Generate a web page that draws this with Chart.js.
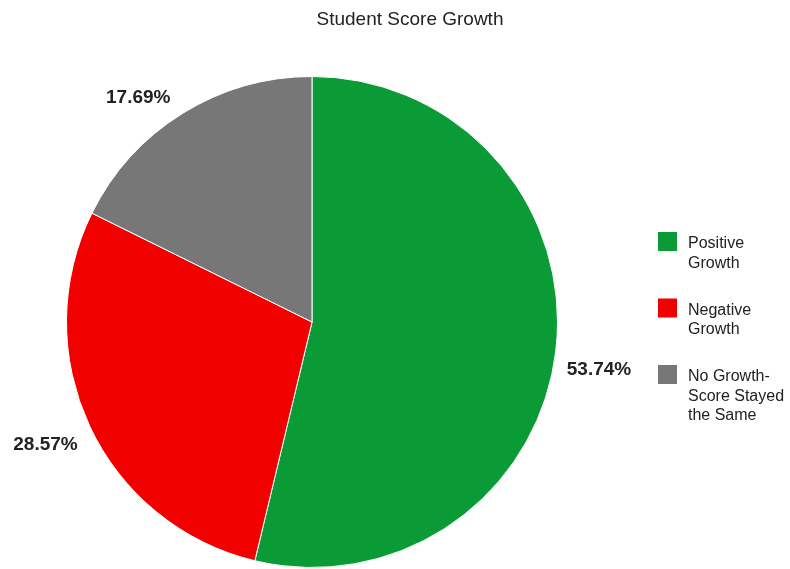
<!DOCTYPE html>
<html>
<head>
<meta charset="utf-8">
<script src="https://cdn.jsdelivr.net/npm/chart.js@4/dist/chart.umd.min.js"></script>
<style>
  html, body { margin: 0; padding: 0; background: #fff; }
  #wrap { width: 790px; height: 569px; position: relative; }
</style>
</head>
<body>
<div id="wrap"><canvas id="myPieChart" width="790" height="569"></canvas></div>
<script>
// chart data
let titleText = 'Student Score Growth';
let labeling = ['Positive Growth', 'Negative Growth', 'No Growth-Score Stayed the Same'];
// legend lines, wrapped like the original
let legendLines = [['Positive', 'Growth'], ['Negative', 'Growth'], ['No Growth-', 'Score Stayed', 'the Same']];
let scoreData = [53.74, 28.57, 17.69];
let sliceColors = ['#0a9a36', '#f20000', '#777777'];

// draws the title, the percent labels and the legend
let extrasPlugin = {
  id: 'extras',
  afterDraw(chart) {
    let ctx = chart.ctx;
    ctx.save();

    // title
    ctx.fillStyle = '#222';
    ctx.font = '19px Arial, "Liberation Sans", sans-serif';
    ctx.textAlign = 'center';
    ctx.textBaseline = 'middle';
    ctx.fillText(titleText, 410, 20);

    // percent labels outside each slice
    let meta = chart.getDatasetMeta(0);
    ctx.font = 'bold 19px Arial, "Liberation Sans", sans-serif';
    meta.data.forEach((arc, i) => {
      let mid = (arc.startAngle + arc.endAngle) / 2;
      let dx = Math.cos(mid);
      let dy = Math.sin(mid);
      let ex = arc.x + dx * arc.outerRadius;
      let ey = arc.y + dy * arc.outerRadius;
      ctx.textAlign = dx >= 0 ? 'left' : 'right';
      let tx = ex + (dx >= 0 ? 11 : -12);
      let ty = ey + (dy >= 0 ? 19 : -16);
      ctx.fillStyle = '#222';
      ctx.fillText(scoreData[i].toFixed(2) + '%', tx, ty);
    });

    // legend on the right
    ctx.font = '16px Arial, "Liberation Sans", sans-serif';
    ctx.textAlign = 'left';
    ctx.textBaseline = 'alphabetic';
    let top = 232;
    labeling.forEach((name, i) => {
      let y = top + i * 66.5;
      ctx.fillStyle = sliceColors[i];
      ctx.fillRect(658, y, 19, 19);
      ctx.fillStyle = '#222';
      legendLines[i].forEach((line, j) => {
        ctx.fillText(line, 688, y + 16 + j * 19.5);
      });
    });

    ctx.restore();
  }
};

function createPieChart() {
  const ctx = document.getElementById('myPieChart').getContext('2d');
  new Chart(ctx, {
    type: 'pie',
    data: {
      labels: labeling,
      datasets: [{
        data: scoreData,
        backgroundColor: sliceColors,
        borderColor: '#ffffff',
        borderWidth: 1
      }]
    },
    options: {
      responsive: false,
      animation: false,
      layout: {
        padding: { left: 66, right: 232, top: 76, bottom: 1 }
      },
      plugins: {
        legend: { display: false },
        title: { display: false },
        tooltip: { enabled: false }
      }
    },
    plugins: [extrasPlugin]
  });
}

createPieChart();
</script>
</body>
</html>
